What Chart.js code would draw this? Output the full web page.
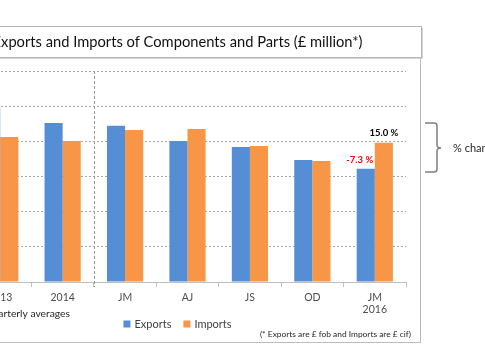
<!DOCTYPE html>
<html><head><meta charset="utf-8">
<script src="https://cdn.jsdelivr.net/npm/chart.js@4"></script>
<style>
html,body{margin:0;padding:0;background:#fff;overflow:hidden;width:485px;height:360px}
#wrap{position:absolute;left:-80px;top:0;width:565px;height:360px}
</style></head>
<body><div id="wrap"><canvas id="c" width="565" height="360"></canvas></div>
<script>
const categories = [['2013'], ['2014'], ['JM'], ['AJ'], ['JS'], ['OD'], ['JM', '2016']];
const exportsVals = [495, 452, 444, 401, 384, 347, 322];
const importsVals = [412, 401, 432, 435, 387, 344, 396];
const seriesNames = ['Exports', 'Imports'];
const yMin = 0, yMax = 600, yStep = 100;
const changeLabels = ['-7.3 %', '15.0 %'];
const titleText = 'Exports and Imports of Components and Parts (£ million*)';
const noteText = 'Annual: quarterly averages';
const footText = '(* Exports are £ fob and Imports are £ cif)';
const braceText = '% change';

const OFF = 80;
const FONT = 'Lato, "Open Sans", "Liberation Sans", sans-serif';
const BLUE = '#558ED5', ORANGE = '#F79646';

const decor = {
  id: 'decor',
  beforeDraw(chart) {
    const ctx = chart.ctx;
    ctx.save();
    ctx.fillStyle = '#fff';
    ctx.fillRect(0, 0, chart.width, chart.height);
    // chart box
    ctx.strokeStyle = '#bdbdbd';
    ctx.lineWidth = 1;
    ctx.strokeRect(14.5, 57.5, 486, 285);
    // title box shadow + box
    ctx.strokeStyle = '#d6d6d6';
    ctx.beginPath();
    ctx.moveTo(502.5, 28); ctx.lineTo(502.5, 58.5); ctx.lineTo(16, 58.5);
    ctx.stroke();
    ctx.fillStyle = '#fff';
    ctx.fillRect(14.5, 26.5, 487, 31);
    ctx.strokeStyle = '#b5b5b5';
    ctx.strokeRect(14.5, 26.5, 487, 31);
    ctx.fillStyle = '#111';
    ctx.font = '14.7px ' + FONT;
    ctx.textAlign = 'center';
    ctx.textBaseline = 'middle';
    ctx.fillText(titleText, 177.5 + OFF, 42);
    ctx.restore();
  },
  afterDraw(chart) {
    const ctx = chart.ctx;
    const xs = chart.scales.x;
    const area = chart.chartArea;
    ctx.save();
    // vertical dashed separator between annual and quarterly
    const sx = Math.round((xs.getPixelForValue(1) + xs.getPixelForValue(2)) / 2) + 0.5;
    ctx.strokeStyle = '#9a9a9a';
    ctx.setLineDash([3, 2]);
    ctx.lineWidth = 1;
    ctx.beginPath();
    ctx.moveTo(sx, area.top);
    ctx.lineTo(sx, area.bottom + 5);
    ctx.stroke();
    ctx.setLineDash([]);
    // change labels above last bars
    const last = categories.length - 1;
    const eb = chart.getDatasetMeta(0).data[last];
    const ib = chart.getDatasetMeta(1).data[last];
    ctx.font = 'bold 9.5px ' + FONT;
    ctx.textAlign = 'center';
    ctx.textBaseline = 'middle';
    ctx.fillStyle = '#FF0000';
    ctx.fillText(changeLabels[0], eb.x - 6, eb.y - 9);
    ctx.fillStyle = '#000';
    ctx.fillText(changeLabels[1], ib.x, ib.y - 10);
    // legend
    ctx.font = '11px ' + FONT;
    ctx.textBaseline = 'middle';
    ctx.textAlign = 'left';
    const sq = 7, gap = 4, itemGap = 12;
    const w0 = ctx.measureText(seriesNames[0]).width;
    const w1 = ctx.measureText(seriesNames[1]).width;
    const total = sq + gap + w0 + itemGap + sq + gap + w1;
    let lx = 177.5 + OFF - total / 2;
    const ly = 324;
    const cols = [BLUE, ORANGE];
    [w0, w1].forEach((w, i) => {
      ctx.fillStyle = cols[i];
      ctx.fillRect(lx, ly - sq / 2, sq, sq);
      ctx.fillStyle = '#404040';
      ctx.fillText(seriesNames[i], lx + sq + gap, ly + 0.5);
      lx += sq + gap + w + itemGap;
    });
    // note
    ctx.font = '10.3px ' + FONT;
    ctx.fillStyle = '#262626';
    ctx.textAlign = 'right';
    ctx.fillText(noteText, 70 + OFF, 314);
    // footnote
    ctx.font = '8.4px ' + FONT;
    ctx.fillText(footText, 411 + OFF, 334);
    // brace
    ctx.strokeStyle = '#7f7f7f';
    ctx.lineWidth = 1.5;
    const bx = 425 + OFF, bt = 123, bb = 172, bm = 148;
    ctx.beginPath();
    ctx.moveTo(bx, bt);
    ctx.lineTo(bx + 9, bt);
    ctx.quadraticCurveTo(bx + 12, bt, bx + 12, bt + 3);
    ctx.lineTo(bx + 12, bm - 3);
    ctx.quadraticCurveTo(bx + 12, bm, bx + 16, bm);
    ctx.quadraticCurveTo(bx + 12, bm, bx + 12, bm + 3);
    ctx.lineTo(bx + 12, bb - 3);
    ctx.quadraticCurveTo(bx + 12, bb, bx + 9, bb);
    ctx.lineTo(bx, bb);
    ctx.stroke();
    ctx.font = '11px ' + FONT;
    ctx.fillStyle = '#262626';
    ctx.textAlign = 'left';
    ctx.fillText(braceText, 453 + OFF, bm);
    ctx.restore();
  }
};

new Chart(document.getElementById('c'), {
  type: 'bar',
  data: {
    labels: categories,
    datasets: [
      { label: seriesNames[0], data: exportsVals, backgroundColor: BLUE },
      { label: seriesNames[1], data: importsVals, backgroundColor: ORANGE }
    ]
  },
  options: {
    responsive: false,
    animation: false,
    devicePixelRatio: 1,
    layout: { padding: { left: 10, right: 79, top: 71, bottom: 38 } },
    plugins: { legend: { display: false }, tooltip: { enabled: false }, title: { display: false } },
    datasets: { bar: { categoryPercentage: 0.58, barPercentage: 1 } },
    scales: {
      x: {
        offset: true,
        grid: { display: true, offset: true, drawOnChartArea: false, drawTicks: true, tickLength: 5, color: '#bfbfbf' },
        border: { display: true, color: '#bfbfbf' },
        ticks: { color: '#4d4d4d', font: { family: FONT, size: 10.5 }, padding: 4, maxRotation: 0, autoSkip: false },
        afterFit(axis) { axis.height = 40; }
      },
      y: {
        min: yMin, max: yMax,
        ticks: { stepSize: yStep, display: false },
        grid: { color: '#a6a6a6', drawTicks: false },
        border: { display: false, dash: [2, 2] },
        afterFit(axis) { axis.width = 39; }
      }
    }
  },
  plugins: [decor]
});
</script>
</body></html>
